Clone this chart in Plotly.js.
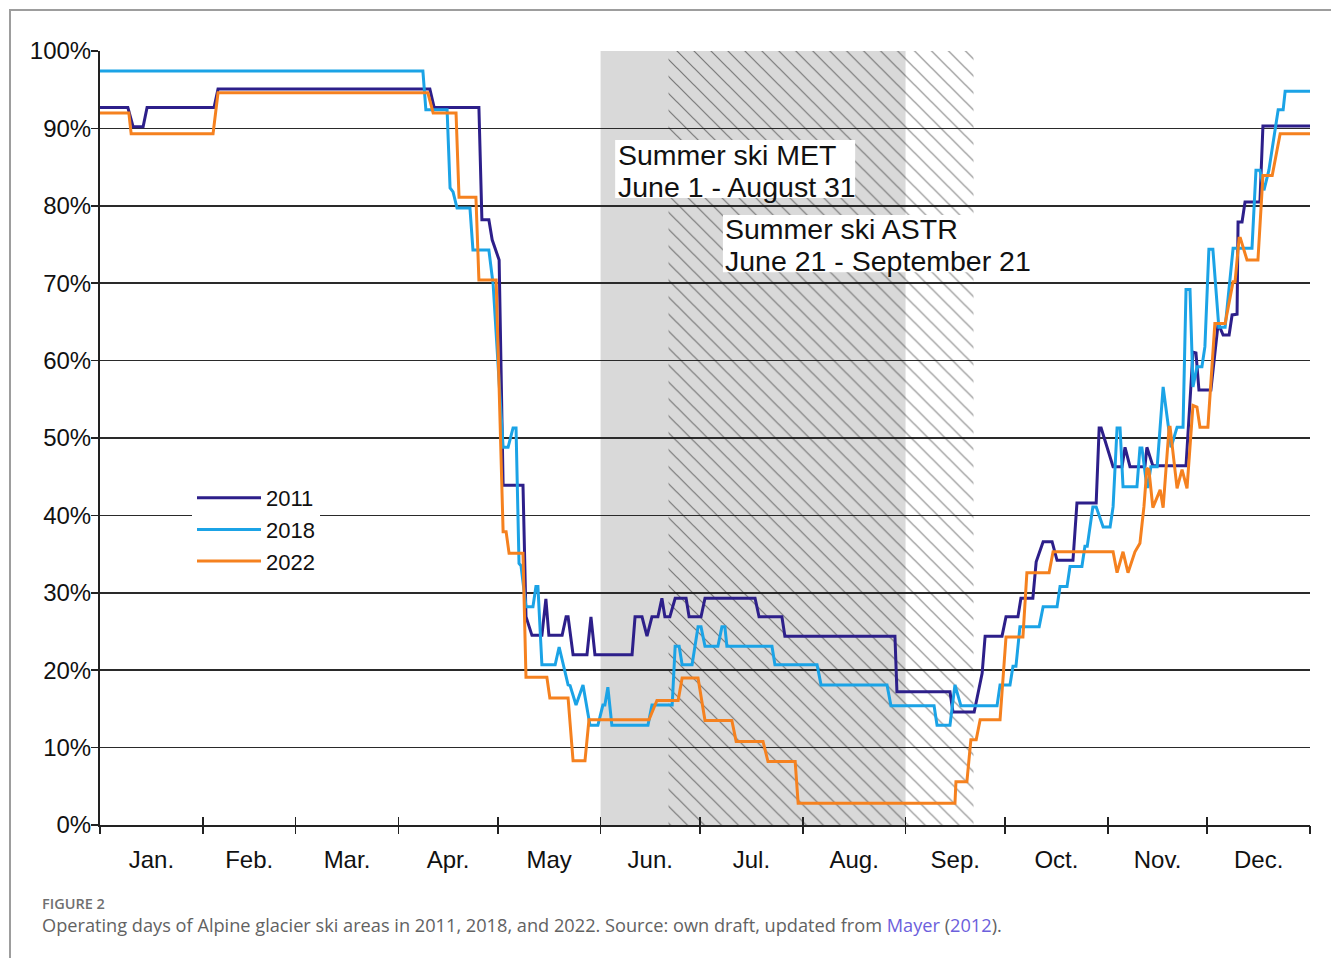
<!DOCTYPE html>
<html>
<head>
<meta charset="utf-8">
<script src="https://cdn.plot.ly/plotly-3.0.1.min.js"></script>
<style>
  html, body { margin: 0; padding: 0; background: #fff; }
  #wrap { position: relative; width: 1331px; height: 958px; overflow: hidden; }
  #chart { position: absolute; left: 0; top: 0; width: 1331px; height: 958px; }
  #frame { position: absolute; left: 9px; top: 9px; width: 1400px; height: 1000px;
           border-left: 2px solid #9d9d9d; border-top: 2px solid #9d9d9d; pointer-events: none; z-index: 5; }
  #figlabel { position: absolute; left: 42px; top: 894px; font-family: "Open Sans", sans-serif;
              font-size: 14.5px; font-weight: 600; color: #707070; z-index: 6; }
  #caption { position: absolute; left: 42px; top: 913px; font-family: "Open Sans", sans-serif;
             font-size: 18.2px; color: #626262; z-index: 6; white-space: nowrap; }
  #caption span { color: #6c60dc; }
</style>
</head>
<body>
<div id="wrap">
  <div id="chart"></div>
  <div id="frame"></div>
  <div id="figlabel">FIGURE 2</div>
  <div id="caption">Operating days of Alpine glacier ski areas in 2011, 2018, and 2022. Source: own draft, updated from <span>Mayer</span> (<span>2012</span>).</div>
</div>
<script>
// ---- Data (x = day of year, 0 = Jan 1; y = share of operating ski areas, %) ----
const monthStarts = [0, 31, 59, 90, 120, 151, 181, 212, 243, 273, 304, 334, 365];
const monthMids = [15.5, 45, 74.5, 105, 135.5, 166, 196.5, 227.5, 258, 288.5, 319, 349.5];
const monthLabels = ["Jan.", "Feb.", "Mar.", "Apr.", "May", "Jun.", "Jul.", "Aug.", "Sep.", "Oct.", "Nov.", "Dec."];
const yTicks = [0, 10, 20, 30, 40, 50, 60, 70, 80, 90, 100];
const yTickLabels = yTicks.map(v => v + "%");

const metPeriod = [151, 243];      // June 1 - August 31
const astrPeriod = [171.5, 263.5]; // June 21 - September 21

const x2011 = [0,8.4,10.0,13.0,14.2,34.4,35.6,99.5,100.8,114.3,115.2,117.3,118.3,120.1,120.4,121.6,127.6,128.5,130.3,133.3,134.5,135.4,139.4,140.6,141.2,142.7,146.9,148.1,149.3,160.5,161.4,163.5,165.0,166.5,168.3,169.5,170.4,171.9,173.5,176.8,177.7,181.3,182.5,197.6,198.8,205.7,206.6,239.8,240.4,256.4,257.3,263.7,266.1,267.0,272.1,273.3,276.9,277.8,281.4,282.4,284.5,287.2,288.7,293.5,294.7,300.5,301.4,302.0,303.8,305.6,308.3,309.2,310.7,315.2,315.8,317.6,327.6,329.7,330.6,331.5,335.1,337.3,338.8,340.6,341.5,343.0,343.3,344.5,345.4,349.9,350.8,365];
const y2011 = [92.7,92.7,90.2,90.2,92.7,92.7,95.1,95.1,92.7,92.7,78.2,78.2,75.6,73.4,73.0,43.9,43.9,26.9,24.5,24.5,29.2,24.5,24.5,26.9,26.9,22.0,22.0,26.9,22.0,22.0,26.9,26.9,24.4,26.9,26.9,29.3,26.9,26.9,29.3,29.3,26.9,26.9,29.3,29.3,26.9,26.9,24.4,24.4,17.2,17.2,14.6,14.6,19.6,24.4,24.4,26.9,26.9,29.3,29.3,34.0,36.6,36.6,34.2,34.2,41.6,41.6,51.3,51.3,48.8,46.3,46.3,48.8,46.3,46.3,48.8,46.4,46.4,61.1,61.0,56.2,56.2,64.8,63.3,63.3,65.9,66.0,77.9,77.9,80.5,80.5,90.3,90.3];

const x2018 = [0,97.4,98.3,104.7,105.6,106.5,107.7,111.6,112.5,117.3,118.6,119.8,121.6,123.1,124.6,125.5,126.4,127.0,128.5,130.6,131.5,132.1,133.3,137.3,138.5,141.2,141.8,143.6,145.7,147.8,150.2,151.7,152.3,153.2,154.4,165.3,166.5,172.6,173.5,174.7,175.6,178.6,180.4,181.3,182.5,186.4,187.6,188.5,189.1,202.7,203.6,216.3,217.5,237.4,238.6,251.6,252.5,256.4,257.9,259.7,270.6,271.5,274.5,275.4,276.3,277.5,283.3,284.5,288.7,289.6,291.7,292.6,296.2,297.1,297.8,299.5,300.5,302.6,304.7,305.6,306.8,307.7,308.6,312.8,313.7,314.3,315.8,316.1,317.0,318.9,320.7,323.1,324.9,326.7,327.6,328.8,329.7,330.9,332.4,333.3,334.5,335.7,337.5,339.4,341.8,347.5,348.7,349.9,351.1,352.6,355.4,356.9,357.5,365];
const y2018 = [97.4,97.4,92.4,92.4,82.3,81.8,79.7,79.7,74.3,74.3,69.8,61.8,48.8,48.8,51.3,51.3,33.8,33.5,28.2,28.2,30.8,30.8,20.7,20.7,23.0,18.1,18.0,15.5,18.1,12.9,12.9,15.5,15.5,17.8,12.9,12.9,15.5,15.5,23.1,23.1,20.7,20.7,25.6,25.6,23.1,23.1,25.6,25.6,23.1,23.1,20.7,20.7,18.1,18.1,15.4,15.4,12.9,12.9,18.1,15.4,15.4,18.1,18.1,20.5,20.5,25.6,25.6,28.2,28.2,30.8,30.8,33.4,33.4,36.0,36.0,41.1,41.1,38.5,38.5,41.1,51.3,51.3,43.7,43.7,48.7,48.7,43.7,43.7,46.3,46.3,56.6,48.8,51.4,51.4,69.2,69.2,56.6,59.2,59.2,61.8,74.4,74.4,64.3,64.3,74.5,74.5,84.6,84.6,82.0,84.6,92.4,92.4,94.8,94.8];

const x2022 = [0,8.7,9.4,34.1,35.6,98.9,100.5,107.4,108.3,113.4,114.3,119.5,121.6,122.5,123.4,127.6,128.5,134.8,135.7,141.2,142.7,146.3,147.5,165.6,168.0,174.4,175.6,180.4,182.5,190.6,191.9,200.0,201.5,209.7,210.6,257.9,258.2,261.5,262.7,264.3,265.5,271.5,273.3,278.4,279.6,286.3,287.5,305.6,306.8,308.6,310.1,312.2,313.7,314.9,315.8,316.4,317.6,319.8,320.7,322.5,322.8,324.9,326.4,327.9,329.7,330.9,331.8,334.2,336.3,339.4,341.8,342.4,343.6,344.0,346.0,349.3,350.8,353.6,356.0,365];
const y2022 = [92.0,92.0,89.3,89.3,94.6,94.6,92.0,92.0,81.1,81.1,70.4,70.4,37.9,37.9,35.1,35.1,19.1,19.1,16.4,16.4,8.3,8.3,13.6,13.6,16.1,16.1,19.0,19.0,13.5,13.5,10.8,10.8,8.2,8.2,2.8,2.8,5.6,5.6,11.0,11.0,13.6,13.6,24.3,24.3,32.6,32.6,35.3,35.3,32.6,35.3,32.6,35.3,36.4,41.1,46.1,45.9,41.0,43.3,41.0,51.4,51.4,43.5,45.9,43.5,54.2,54.0,51.4,51.4,64.8,64.8,70.2,70.2,75.8,75.8,73.0,73.0,83.9,83.9,89.3,89.3];

const seriesNames = ["2011", "2018", "2022"];
const seriesColors = ["#2d1f8a", "#1ba3e6", "#f5811f"];

const FONT = "Liberation Sans, Arial, sans-serif";

// ---- Traces ----
const hatch = {
  type: "bar",
  x: [(astrPeriod[0] + astrPeriod[1]) / 2],
  y: [100],
  width: [astrPeriod[1] - astrPeriod[0]],
  marker: {
    color: "rgba(0,0,0,0)",
    line: { width: 0 },
    pattern: { shape: "\\", fgcolor: "#111111", size: 12, solidity: 0.1, fillmode: "overlay" }
  },
  showlegend: false,
  hoverinfo: "skip"
};

const lines = [[x2011, y2011], [x2018, y2018], [x2022, y2022]].map((d, i) => ({
  type: "scatter",
  mode: "lines",
  x: d[0],
  y: d[1],
  name: seriesNames[i],
  line: { color: seriesColors[i], width: 3 }
}));

// ---- Layout ----
const tickAxisBase = {
  range: [0, 365],
  tickmode: "array",
  tickvals: monthStarts,
  showticklabels: false,
  showgrid: false,
  zeroline: false,
  ticklen: 8,
  tickwidth: 1.5,
  tickcolor: "#222"
};

const layout = {
  width: 1331,
  height: 958,
  margin: { l: 100, r: 21, t: 51, b: 133 },
  paper_bgcolor: "rgba(255,255,255,1)",
  plot_bgcolor: "rgba(0,0,0,0)",
  showlegend: true,
  xaxis: {
    range: [0, 365],
    tickmode: "array",
    tickvals: monthMids,
    ticktext: monthLabels,
    ticks: "",
    ticklabelstandoff: 12,
    tickfont: { family: FONT, size: 24, color: "#111" },
    showgrid: false,
    zeroline: false,
    showline: true,
    linecolor: "#222",
    linewidth: 2,
    fixedrange: true
  },
  xaxis2: Object.assign({}, tickAxisBase, { overlaying: "x", anchor: "y", side: "bottom", ticks: "outside" }),
  xaxis3: Object.assign({}, tickAxisBase, { overlaying: "x", anchor: "y", side: "bottom", ticks: "inside" }),
  yaxis: {
    range: [0, 100],
    tickmode: "array",
    tickvals: yTicks,
    ticktext: yTickLabels,
    ticks: "outside",
    ticklen: 7,
    tickwidth: 1.5,
    tickcolor: "#222",
    ticklabelstandoff: -5,
    tickfont: { family: FONT, size: 24, color: "#111" },
    showgrid: true,
    gridcolor: "#2a2a2a",
    gridwidth: 1.5,
    zeroline: false,
    showline: true,
    linecolor: "#222",
    linewidth: 2,
    fixedrange: true
  },
  legend: {
    x: (192 - 100) / 1210,
    y: (825 - 477) / 774,
    xanchor: "left",
    yanchor: "top",
    bgcolor: "#ffffff",
    borderwidth: 0,
    itemwidth: 64,
    font: { family: FONT, size: 22, color: "#111" }
  },
  shapes: [
    { type: "rect", xref: "x", yref: "y", layer: "below", x0: metPeriod[0], x1: metPeriod[1], y0: 0, y1: 100,
      fillcolor: "#d9d9d9", line: { width: 0 } },
    { type: "rect", xref: "x", yref: "y", layer: "above", x0: 155.4, x1: 227.8, y0: 81.0, y1: 88.5,
      fillcolor: "#ffffff", line: { width: 0 } },
    { type: "rect", xref: "x", yref: "y", layer: "above", x0: 187.9, x1: 281.1, y0: 71.4, y1: 78.8,
      fillcolor: "#ffffff", line: { width: 0 } }
  ],
  annotations: [
    { text: "Summer ski MET", x: 155.9, y: 86.56 },
    { text: "June 1 - August 31", x: 155.9, y: 82.43 },
    { text: "Summer ski ASTR", x: 188.2, y: 77.0 },
    { text: "June 21 - September 21", x: 188.2, y: 72.87 }
  ].map(a => Object.assign({
    xref: "x", yref: "y", xanchor: "left", yanchor: "middle", showarrow: false,
    borderpad: 0, font: { family: FONT, size: 28.5, color: "#111" }
  }, a))
};

// empty traces bound to the overlay tick axes so they render
const tickHolders = ["x2", "x3"].map(ax => ({
  type: "scatter", mode: "lines", x: [], y: [], xaxis: ax, yaxis: "y", showlegend: false, hoverinfo: "skip"
}));

Plotly.newPlot("chart", [hatch].concat(tickHolders, lines), layout, { displayModeBar: false, staticPlot: true });
</script>
</body>
</html>
